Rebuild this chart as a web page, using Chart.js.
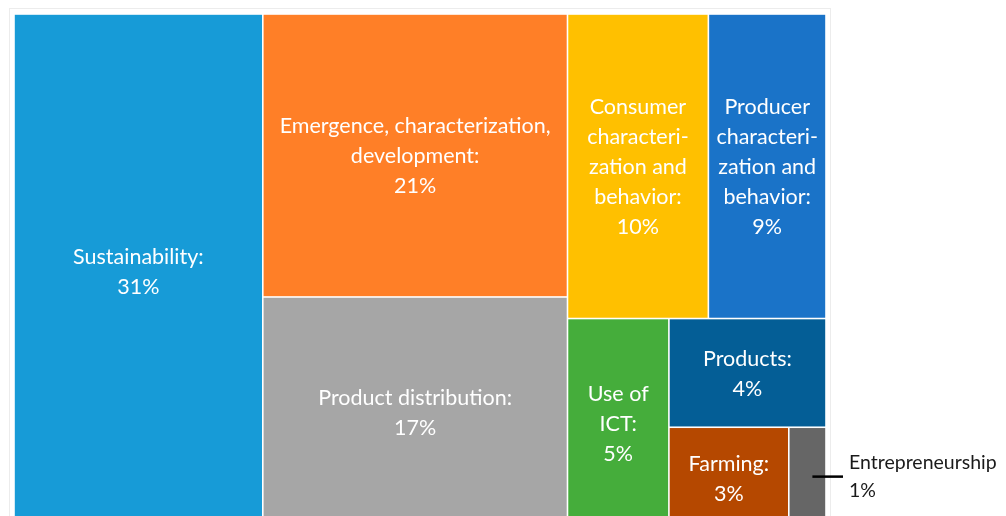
<!DOCTYPE html>
<html>
<head>
<meta charset="utf-8">
<title>Treemap</title>
<script src="https://cdn.jsdelivr.net/npm/chart.js@4.4.1/dist/chart.umd.min.js"></script>
<style>
  html, body { margin: 0; padding: 0; background: #fff; overflow: hidden; }
  #wrap { width: 1006px; height: 516px; overflow: hidden; }
</style>
</head>
<body>
<div id="wrap"><canvas id="treemap" width="1006" height="540"></canvas></div>
<script>
// categories (soft hyphen marks where long words may break)
const categories = [
  'Sustainability',
  'Emergence, characterization, development',
  'Product distribution',
  'Consumer characteri\u00ADzation and behavior',
  'Producer characteri\u00ADzation and behavior',
  'Use of ICT',
  'Products',
  'Farming',
  'Entrepreneurship'
];
// share of studies, %
const shares = [30.7, 20.7, 16.9, 10.3, 8.6, 5.1, 4.1, 2.9, 0.9];
const colors = ['#179bd7', '#ff7f27', '#a6a6a6', '#ffc000', '#1a73c8', '#45ad3b', '#045e96', '#b54800', '#666666'];

// how the cells are nested: 'x' splits side by side, 'y' stacks
const layoutTree = {
  dir: 'x', items: [
    0,
    { dir: 'y', items: [1, 2] },
    { dir: 'y', items: [
      { dir: 'x', items: [3, 4] },
      { dir: 'x', items: [5, { dir: 'y', items: [6, { dir: 'x', items: [7, 8] }] }] }
    ] }
  ]
};

const FONT = '21.5px Lato, "Open Sans", sans-serif';
const OUTSIDE_FONT = '19.5px Lato, "Open Sans", sans-serif';
const LINE_H = 30;

function nodeSum(node) {
  if (typeof node === 'number') return shares[node];
  return node.items.reduce((s, n) => s + nodeSum(n), 0);
}

// split a rect (in data units) among the node's children
function layout(node, x0, y0, x1, y1, out) {
  if (typeof node === 'number') {
    out.push({ i: node, x0, y0, x1, y1 });
    return out;
  }
  const total = nodeSum(node);
  let pos = node.dir === 'x' ? x0 : y0;
  node.items.forEach(child => {
    const frac = nodeSum(child) / total;
    if (node.dir === 'x') {
      const w = (x1 - x0) * frac;
      layout(child, pos, y0, pos + w, y1, out);
      pos += w;
    } else {
      const h = (y1 - y0) * frac;
      layout(child, x0, pos, x1, pos + h, out);
      pos += h;
    }
  });
  return out;
}

function wrapLabel(ctx, text, maxW) {
  const lines = [];
  let line = '';
  text.split(' ').forEach(word => {
    const clean = word.replace(/\u00AD/g, '');
    const test = line ? line + ' ' + clean : clean;
    if (ctx.measureText(test).width <= maxW) { line = test; return; }
    if (line) { lines.push(line); line = ''; }
    if (ctx.measureText(clean).width <= maxW) { line = clean; return; }
    let piece = '';
    word.split('\u00AD').forEach(p => {
      if (piece && ctx.measureText(piece + p + '-').width > maxW) {
        lines.push(piece + '-');
        piece = p;
      } else {
        piece += p;
      }
    });
    line = piece;
  });
  if (line) lines.push(line);
  return lines;
}

const treemapPlugin = {
  id: 'treemapCells',
  afterDatasetsDraw(chart) {
    const ctx = chart.ctx;
    const xs = chart.scales.x, ys = chart.scales.y;
    const area = chart.chartArea;

    // faint plot frame
    ctx.save();
    ctx.strokeStyle = '#ececec';
    ctx.lineWidth = 1;
    ctx.strokeRect(area.left - 4.5, area.top - 5.5, area.right - area.left + 9, area.bottom - area.top + 20);

    const cells = layout(layoutTree, 0, 0, 1, 1, []);
    cells.forEach(c => {
      const left = xs.getPixelForValue(c.x0), right = xs.getPixelForValue(c.x1);
      const top = ys.getPixelForValue(c.y0), bottom = ys.getPixelForValue(c.y1);
      ctx.fillStyle = colors[c.i];
      ctx.fillRect(left + 0.8, top + 0.8, right - left - 1.6, bottom - top - 1.6);

      ctx.textBaseline = 'middle';
      const w = right - left;
      const cx = (left + right) / 2, cy = (top + bottom) / 2;
      const pct = Math.round(shares[c.i]) + '%';

      if (w < 60) {
        // too small: label outside with a leader line
        ctx.strokeStyle = '#000';
        ctx.lineWidth = 2.5;
        ctx.beginPath();
        ctx.moveTo(cx + 5, cy - 1);
        ctx.lineTo(right + 17, cy - 1);
        ctx.stroke();
        ctx.font = OUTSIDE_FONT;
        ctx.fillStyle = '#1a1a1a';
        ctx.textAlign = 'left';
        const lines = [categories[c.i].replace(/\u00AD/g, ''), pct];
        lines.forEach((t, k) => ctx.fillText(t, right + 23, cy - 1 + (k - 0.5) * 28.5));
        return;
      }

      ctx.font = FONT;
      const lines = wrapLabel(ctx, categories[c.i] + ':', w - 10);
      lines.push(pct);
      ctx.fillStyle = '#ffffff';
      ctx.textAlign = 'center';
      lines.forEach((t, k) => {
        ctx.fillText(t, cx, cy + 1 + (k - (lines.length - 1) / 2) * LINE_H);
      });
    });
    ctx.restore();
  }
};

new Chart(document.getElementById('treemap'), {
  type: 'scatter',
  data: {
    labels: categories,
    datasets: [{ data: [], pointRadius: 0 }]
  },
  options: {
    responsive: false,
    animation: false,
    layout: { padding: { left: 14, top: 14, right: 180, bottom: 12 } },
    scales: {
      x: { type: 'linear', min: 0, max: 1, display: false },
      y: { type: 'linear', min: 0, max: 1, reverse: true, display: false }
    },
    plugins: { legend: { display: false }, tooltip: { enabled: false } }
  },
  plugins: [treemapPlugin]
});
</script>
</body>
</html>
